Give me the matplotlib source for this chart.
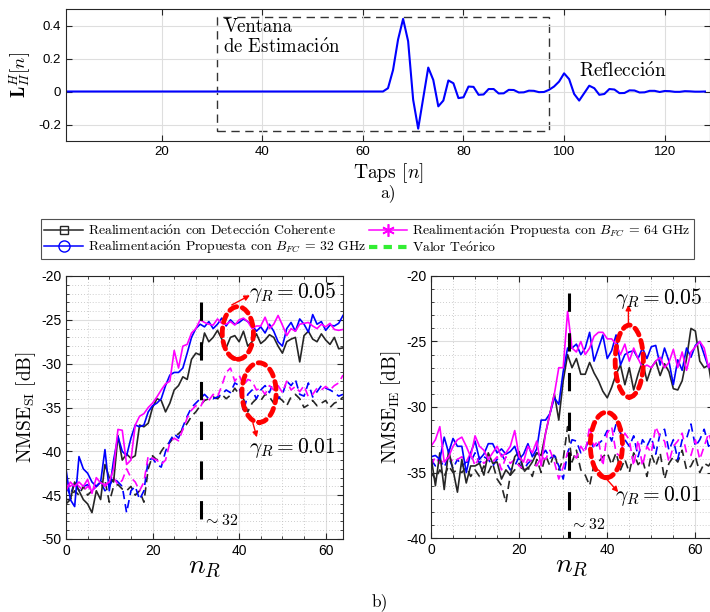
import numpy as np
import matplotlib
matplotlib.use("Agg")
import matplotlib.pyplot as plt
from matplotlib.patches import Ellipse, Rectangle
from matplotlib.lines import Line2D

plt.rcParams['font.family'] = ['Liberation Sans', 'DejaVu Sans']
plt.rcParams['mathtext.fontset'] = 'cm'
plt.rcParams['axes.unicode_minus'] = False
SERIF = ['cmr10', 'DejaVu Serif']
O_ACUTE = r'$\mathrm{\acute{o}}$'

# ---- panel a): respuesta L_II^H[n] ----
taps = np.arange(1, 129)
taps_val = ([0.0] * 63 +
            [0.0, 0.02, 0.13, 0.315, 0.44, 0.305, -0.05, -0.225, -0.04, 0.145,
             0.07, -0.09, -0.055, 0.067, 0.05, -0.04, -0.035, 0.03, 0.028, -0.02,
             -0.018, 0.015, 0.015, -0.012, -0.011, 0.01, 0.009, -0.006, -0.005, 0.005,
             0.004, -0.004, -0.003, 0.01, 0.03, 0.06, 0.11, 0.075, -0.015, -0.055,
             -0.01, 0.035, 0.02, -0.02, -0.015, 0.015, 0.012, -0.01, -0.009, 0.007,
             0.006, -0.006, -0.005, 0.004, 0.004, -0.003, 0.003, 0.002, -0.002, -0.002,
             0.002, 0.001, -0.001, -0.001, 0.0])

# ---- panel b): NMSE vs n_R ----
n_r = np.arange(0, 65)

si_coh_05 = [-45.5, -45.5, -43.5, -44.5, -45.5, -46, -47, -44.5, -45.5, -41.5,
             -43, -43.5, -38.2, -41, -40.3, -40.8, -40.5, -37, -37.2, -36.8,
             -35, -34, -34.2, -35.5, -34.5, -33, -32.5, -31.5, -31.8, -29.5,
             -28.8, -29, -26.5, -27.5, -27, -26.2, -27.2, -28.2, -27, -26.8,
             -27.5, -26.3, -28, -27.5, -26.6, -27.7, -27.3, -26.7, -27, -28,
             -28.8, -27.5, -27.2, -27, -29.8, -26.8, -26.3, -27.2, -27.5, -26.6,
             -27.3, -27.8, -27, -28.3, -28.2]
si_b32_05 = [-42, -45.5, -46.3, -40.6, -42, -42.5, -43.5, -44, -43.5, -39.8,
             -44.5, -41, -38.3, -40, -40.5, -38.5, -37, -37.2, -37, -35.5,
             -34.8, -34.5, -34, -32.5, -31.3, -31, -31, -30.5, -28.8, -27,
             -26, -25.5, -25.8, -25.2, -26, -25.5, -24.8, -25.7, -25, -25.5,
             -25.3, -24.9, -25.2, -25.6, -26.3, -25.8, -26.5, -25.5, -26.3, -27.5,
             -28, -26, -25.3, -26.3, -24.9, -25.5, -26.4, -24.4, -25.5, -25.2,
             -26.2, -25.6, -25.7, -25.4, -24.5]
si_b64_05 = [-44.5, -43.5, -44, -43.5, -44, -43.2, -44.8, -43, -43.6, -43.8,
             -43.5, -42, -37.5, -37.6, -41.5, -41, -37, -36, -35.7, -35,
             -34.5, -33.8, -33, -32.3, -32, -28.5, -30.5, -28, -27.8, -26.5,
             -26, -25, -25.3, -25.5, -25.6, -24.9, -25.4, -25.5, -25.2, -25.6,
             -25, -24.8, -25.2, -26, -25.7, -25.7, -24.7, -26, -25.5, -24.5,
             -25.6, -26.8, -26, -26.3, -25.5, -25.4, -25.3, -25.7, -26, -25.5,
             -25.8, -25.4, -26.1, -26.2, -26.1]
si_coh_01 = [-46, -45.5, -44.5, -45, -44, -45, -44.5, -44, -43.5, -43.3,
             -45.8, -44, -43.8, -44.3, -44.5, -44, -45, -44.5, -45.8, -42,
             -40.5, -41, -40, -39.3, -39, -38.3, -38, -37.5, -36.8, -36,
             -35.5, -34.8, -34.2, -34, -33.8, -34, -33.5, -34, -33.6, -32.8,
             -33.5, -34, -35.5, -34.5, -34, -34.2, -33.5, -33.8, -34.5, -33.8,
             -34.2, -34.8, -33.8, -33.5, -34, -35, -34.7, -34.2, -34.8, -34.5,
             -34.2, -35, -34.5, -34.3, -33.8]
si_b32_01 = [-44, -45, -43.5, -44.5, -44, -43.8, -44.5, -44, -43.5, -44.5,
             -44, -43, -43.5, -44, -47, -44.5, -44, -45.5, -44.5, -41,
             -40.8, -41.5, -41.8, -40, -38.8, -38, -38.5, -37.2, -36, -35,
             -34.5, -34, -33.5, -34, -34, -33.8, -33.5, -33, -33.3, -32.2,
             -32.5, -35.5, -33.5, -33, -34, -33, -32.5, -33.3, -32, -34,
             -33.5, -32, -32.5, -31.8, -33.5, -33.7, -32.2, -33.8, -33.2, -32.5,
             -32.8, -33, -33.3, -33.7, -33.5]
si_b64_01 = [-43.5, -44, -43.5, -44, -44.5, -44, -44.5, -44, -43.5, -44,
             -43.5, -43, -43.8, -43.3, -42, -43, -43.5, -44.5, -43.5, -40.5,
             -40.8, -41, -41.5, -41, -39, -38.5, -38.8, -37.5, -36.2, -35.3,
             -34.8, -35, -34, -34.2, -33.5, -33.8, -32.5, -31, -30.5, -32,
             -31.3, -32.5, -31.8, -32, -33, -32.8, -33.5, -32.5, -33, -32.5,
             -33.3, -32, -33, -32.6, -33.2, -32.5, -33.8, -33.5, -32.8, -33,
             -32.6, -33, -32.5, -32.2, -31.3]

ie_coh_05 = [-33.8, -36, -33.5, -36.3, -33.3, -34.8, -36.5, -34, -35.8, -34.5,
             -34.5, -34.3, -35.2, -33.5, -34.3, -34.2, -35.5, -34.8, -35.2, -33.8,
             -33.4, -34.8, -34.7, -34.2, -33.5, -33.7, -32, -30.5, -29, -31,
             -28, -26, -27, -26.3, -27.5, -27.5, -26.6, -27.4, -28, -28.8,
             -29.3, -28.5, -27.5, -26.8, -28.3, -27, -28.7, -27.5, -26.5, -28,
             -27, -26.5, -27.6, -26.7, -27.3, -28.6, -28.7, -28, -26.3, -24,
             -24.2, -26.5, -27, -26.8, -29]
ie_b32_05 = [-33.8, -33.7, -34, -32.3, -33.5, -32.4, -33, -33, -35, -33.5,
             -32.6, -34, -33.6, -32.8, -32.8, -33.5, -33.2, -33.6, -33.4, -33,
             -34, -33.6, -32.8, -33.8, -33.2, -31, -31, -30.5, -29.3, -29.8,
             -27.3, -25.5, -25.5, -25.2, -26, -25.5, -24.3, -26.5, -25.5, -24.5,
             -26.3, -25.7, -24.5, -26.8, -26, -25.8, -25.7, -26.3, -25.5, -26.3,
             -25.4, -25.3, -26.8, -25.5, -26.5, -28.3, -26.4, -27.2, -25.5, -26.2,
             -25.3, -25, -26, -27, -26.2]
ie_b64_05 = [-33, -32.5, -31.5, -34.2, -33.8, -33, -32.5, -32.3, -33, -33.8,
             -32.2, -33, -33.3, -34, -33.5, -33, -33.8, -33.5, -33, -31.8,
             -33.8, -34.2, -33, -33.5, -32.6, -34.5, -32, -30.5, -29, -27,
             -27, -22.7, -25.5, -25.8, -25, -26, -25.5, -24.6, -24.3, -24.3,
             -24.8, -24.8, -25.2, -26, -25.2, -26.5, -25.5, -26.3, -27, -26.8,
             -27, -26.5, -26.2, -27, -26.6, -25.6, -27, -25.8, -27.2, -25.8,
             -25.4, -25, -25.5, -27, -26.2]
ie_coh_01 = [-35, -35.5, -34.8, -35.3, -34.5, -35, -34.8, -35, -34.6, -35.3,
             -34.8, -35.3, -34.5, -35, -34.3, -35.5, -36, -37.3, -35.2, -34.8,
             -34.3, -35, -34.6, -35.3, -34, -35, -33.7, -34.5, -33.5, -34.8,
             -34, -31.5, -34.2, -33.3, -34.8, -35.2, -36, -34.4, -34.2, -33.8,
             -33.5, -34.4, -33.5, -34.8, -34, -35, -33.5, -34.4, -34, -35.3,
             -33.6, -34.5, -33.5, -35.5, -34.3, -33.8, -34.2, -33.3, -34.8, -34.5,
             -33.8, -35, -34.3, -34.5, -34]
ie_b32_01 = [-34, -34.5, -34, -34.6, -33.8, -34.7, -34, -34.5, -34.2, -34.2,
             -33.5, -34.3, -33.8, -34, -34.5, -34, -33.6, -34.2, -34.8, -34.5,
             -33.8, -34.8, -34.3, -34, -33.5, -33.8, -33.3, -33.9, -33.7, -34.5,
             -35.5, -33.5, -32.5, -32.6, -33.5, -33.2, -32.4, -33.2, -32.8, -32.5,
             -31.8, -32.6, -31.3, -32, -32.5, -33, -32.2, -33.8, -32.5, -33,
             -32.3, -33.6, -32, -31.7, -33.3, -32.5, -34, -32.5, -32.4, -31.3,
             -33, -32.5, -31.7, -33, -32.3]
ie_b64_01 = [-34.5, -33.8, -34.3, -34, -33.8, -34.2, -34, -33.8, -34.2, -33.5,
             -34.5, -33.8, -34.3, -34, -34.2, -33.8, -34.8, -33.8, -34.3, -34,
             -34.5, -34.7, -34, -34.2, -34.5, -33.8, -34, -33.3, -34.2, -35.5,
             -34.6, -33.5, -33.5, -33.9, -33, -33.5, -31.5, -33, -32.5, -34.5,
             -32, -31.5, -33.5, -33.8, -32, -32.5, -34.5, -32.5, -34.5, -33,
             -33.5, -31.5, -32.3, -32.6, -34.2, -33, -32.6, -32, -33.5, -33.7,
             -32.5, -34, -33, -32, -33]

legend_labels = ['Realimentaci' + O_ACUTE + 'n con Detecci' + O_ACUTE + 'n Coherente',
                 'Realimentaci' + O_ACUTE + r'n Propuesta con $B_{FC}$ = 32 GHz',
                 'Realimentaci' + O_ACUTE + r'n Propuesta con $B_{FC}$ = 64 GHz',
                 'Valor Te' + O_ACUTE + 'rico']

BLACK = '#262626'
DASH = (0, (5, 3))

fig = plt.figure(figsize=(7.1, 6.12), dpi=100)

# ---------------- a) ----------------
ax0 = fig.add_axes([66 / 710, 1 - 141 / 612, 644 / 710, 132 / 612])
ax0.plot(taps, taps_val, color='#0000FF', lw=1.5)
ax0.set_xlim(1, 129)
ax0.set_ylim(-0.3, 0.5)
ax0.set_xticks([20, 40, 60, 80, 100, 120])
ax0.set_yticks([-0.2, 0, 0.2, 0.4])
ax0.set_yticklabels(['-0.2', '0', '0.2', '0.4'])
ax0.grid(True, color='#dedede', lw=0.8)
ax0.tick_params(direction='in', top=True, right=True, labelsize=9.5, length=4, color=BLACK)
for s in ax0.spines.values():
    s.set_color(BLACK)
ax0.add_patch(Rectangle((31, -0.24), 66, 0.693, fill=False, ec='#333333', lw=1.0,
                        ls=(0, (6, 4))))
ax0.text(32.3, 0.445, 'Ventana\nde Estimaci' + O_ACUTE + 'n', family=SERIF, fontsize=13.5,
         va='top', ha='left', linespacing=1.1)
ax0.text(103, 0.12, 'Reflecci' + O_ACUTE + 'n', family=SERIF, fontsize=14,
         va='center', ha='left')
ax0.set_ylabel(r'$\mathbf{L}_{II}^{H}[n]$', fontsize=13.5, labelpad=4)
fig.text(388 / 710, 1 - 173 / 612, r'Taps $[n]$', family=SERIF, fontsize=14,
         ha='center', va='center')
fig.text(388 / 710, 1 - 193 / 612, 'a)', family=SERIF, fontsize=12.5, ha='center', va='center')


def style_nmse(ax, ylim, yticks):
    ax.set_xlim(0, 64)
    ax.set_ylim(*ylim)
    ax.set_xticks([0, 20, 40, 60])
    ax.set_xticks(np.arange(0, 65, 5), minor=True)
    ax.set_yticks(yticks)
    ax.set_yticks(np.arange(ylim[0], ylim[1] + 1, 1), minor=True)
    ax.grid(True, which='major', color='#dedede', lw=0.8)
    ax.grid(True, which='minor', color='#bdbdbd', lw=0.6, ls=(0, (1, 2.5)))
    ax.tick_params(which='both', direction='in', top=True, right=True, color=BLACK)
    ax.tick_params(which='major', labelsize=10, length=4)
    ax.tick_params(which='minor', length=2)
    for s in ax.spines.values():
        s.set_color(BLACK)
    ax.set_xlabel(r'$n_R$', fontsize=20, labelpad=-3)


def draw_series(ax, series):
    for vals, col, ls in series:
        ax.plot(n_r, vals, color=col, lw=1.2, ls=ls)


def red_arrow(ax, start, tip):
    ax.annotate('', xy=tip, xytext=start,
                arrowprops=dict(arrowstyle='-|>', color='red', lw=1.0,
                                mutation_scale=8, shrinkA=0, shrinkB=0))


def red_ellipse(ax, center, w, h):
    ax.add_patch(Ellipse(center, w, h, fill=False, ec='red', lw=3.5,
                         ls=(0, (1.6, 1.2)), capstyle='round', zorder=5))


# ---------------- b) left ----------------
ax1 = fig.add_axes([66 / 710, 1 - 539 / 612, 277 / 710, 263 / 612])
draw_series(ax1, [(si_coh_01, BLACK, DASH), (si_b32_01, '#0000FF', DASH),
                  (si_b64_01, '#FF00FF', DASH),
                  (si_coh_05, BLACK, '-'), (si_b32_05, '#0000FF', '-'),
                  (si_b64_05, '#FF00FF', '-')])
style_nmse(ax1, (-50, -20), [-50, -45, -40, -35, -30, -25, -20])
ax1.set_ylabel(r'$\mathrm{NMSE}_{\mathrm{SI}}\ [\mathrm{dB}]$', fontsize=14, labelpad=2)
ax1.plot([31.3, 31.3], [-23, -50], color='black', lw=2.2, ls=(0, (6, 7)), zorder=4)
ax1.text(31.6, -47.9, r'$\sim 32$', fontsize=11.5, va='center', ha='left')
red_ellipse(ax1, (39.7, -26.5), 7.2, 6.0)
red_ellipse(ax1, (44.6, -33.3), 7.9, 6.8)
red_arrow(ax1, (38.3, -23.3), (42.5, -22.2))
red_arrow(ax1, (43.2, -36.8), (44.1, -38.4))
ax1.text(42.3, -21.9, r'$\gamma_R = 0.05$', fontsize=15.5, va='center', ha='left')
ax1.text(42.3, -39.6, r'$\gamma_R = 0.01$', fontsize=15.5, va='center', ha='left')

# ---------------- b) right ----------------
ax2 = fig.add_axes([431 / 710, 1 - 538 / 612, 282 / 710, 262 / 612])
draw_series(ax2, [(ie_coh_01, BLACK, DASH), (ie_b32_01, '#0000FF', DASH),
                  (ie_b64_01, '#FF00FF', DASH),
                  (ie_coh_05, BLACK, '-'), (ie_b32_05, '#0000FF', '-'),
                  (ie_b64_05, '#FF00FF', '-')])
style_nmse(ax2, (-40, -20), [-40, -35, -30, -25, -20])
ax2.set_ylabel(r'$\mathrm{NMSE}_{\mathrm{IE}}\ [\mathrm{dB}]$', fontsize=14, labelpad=2)
ax2.plot([31.3, 31.3], [-21.3, -40], color='black', lw=2.2, ls=(0, (6, 7)), zorder=4)
ax2.text(31.6, -39.0, r'$\sim 32$', fontsize=11.5, va='center', ha='left')
red_ellipse(ax2, (45.0, -26.5), 6.4, 5.5)
red_ellipse(ax2, (39.8, -32.9), 7.3, 5.0)
red_arrow(ax2, (44.8, -23.6), (44.8, -22.2))
red_arrow(ax2, (38.0, -34.8), (42.5, -36.5))
ax2.text(41.8, -21.7, r'$\gamma_R = 0.05$', fontsize=15.5, va='center', ha='left')
ax2.text(41.8, -36.8, r'$\gamma_R = 0.01$', fontsize=15.5, va='center', ha='left')

fig.text(380 / 710, 1 - 602 / 612, 'b)', family=SERIF, fontsize=12.5, ha='center', va='center')

# ---------------- legend ----------------
handles = [Line2D([], [], color=BLACK, lw=1.1, marker='s', mfc='none', ms=6),
           Line2D([], [], color='#0000FF', lw=1.1, marker='o', mfc='none', ms=8),
           Line2D([], [], color='#FF00FF', lw=1.1, marker=(6, 2, 0), ms=9, mew=1.2),
           Line2D([], [], color='#33EE33', lw=3, ls=(0, (2, 1.5)))]
leg = fig.legend(handles, legend_labels, ncol=2, loc='upper left',
                 bbox_to_anchor=(41 / 710, 1 - 219 / 612), prop={'family': SERIF, 'size': 9.9},
                 frameon=True, fancybox=False, edgecolor=BLACK, handlelength=2.8,
                 handletextpad=0.35, columnspacing=0.2, borderpad=0.25, labelspacing=0.05,
                 borderaxespad=0)
leg.get_frame().set_linewidth(0.8)

fig.savefig('out.png', dpi=100)
